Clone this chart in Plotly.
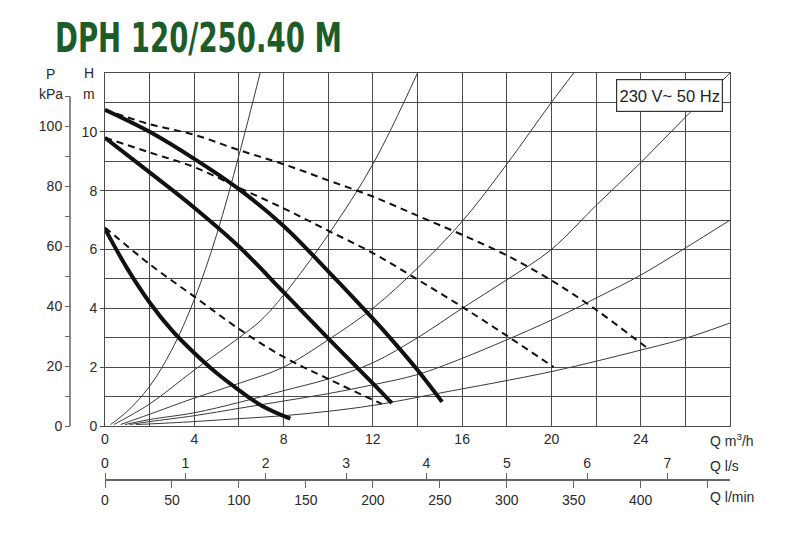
import plotly.graph_objects as go

# pump curves, Q in m3/h, H in m
q_hi = [0, 2, 4, 6, 8, 10, 12, 13, 14, 15.1]
h_hi = [10.75, 10.0, 9.08, 8.05, 6.8, 5.26, 3.65, 2.8, 1.9, 0.82]
q_mid = [0, 2, 4, 6, 8, 10, 12, 12.85]
h_mid = [9.8, 8.62, 7.42, 6.1, 4.55, 2.98, 1.45, 0.78]
q_lo = [0, 1, 2, 3, 4, 5, 6, 7, 8.3]
h_lo = [6.7, 5.35, 4.2, 3.25, 2.48, 1.8, 1.22, 0.7, 0.25]

# dashed curves
qd_hi = [0, 2, 4, 6, 8, 10, 12, 14, 16, 18, 20, 22, 24, 24.3]
hd_hi = [10.75, 10.26, 9.9, 9.38, 8.9, 8.35, 7.8, 7.15, 6.5, 5.8, 4.95, 3.95, 2.82, 2.65]
qd_mid = [0, 2, 4, 6, 8, 10, 12, 14, 16, 18, 20.1]
hd_mid = [9.8, 9.3, 8.8, 8.1, 7.4, 6.64, 5.88, 4.98, 4.05, 3.07, 2.0]
qd_lo = [0, 2, 4, 6, 8, 10, 12.4]
hd_lo = [6.75, 5.5, 4.4, 3.3, 2.35, 1.6, 0.75]

# system curves
sys_q = [
    [0.25, 1, 2, 3, 4, 5, 6, 6.95],
    [0.4, 2, 4, 6, 7, 8, 10, 12, 14],
    [0.7, 2, 4, 6, 8, 10, 12, 14, 16, 18, 20, 21],
    [0.9, 2, 4, 6, 8, 10, 12, 14, 16, 18, 20, 22, 24, 26, 28],
    [1.1, 2, 4, 6, 8, 10, 12, 14, 16, 20, 22, 24, 26, 28],
    [1.4, 2, 4, 6, 8, 10, 12, 15, 20, 24, 26, 28],
]
sys_h = [
    [0.05, 0.5, 1.35, 2.6, 4.3, 6.5, 9.2, 12],
    [0.05, 0.75, 1.9, 3.0, 3.6, 4.45, 6.5, 8.9, 12],
    [0.05, 0.4, 0.95, 1.45, 2.0, 2.93, 4.0, 5.37, 6.95, 8.9, 11, 12],
    [0.05, 0.22, 0.45, 0.8, 1.2, 1.6, 2.15, 3.0, 4.0, 4.97, 6.0, 7.5, 8.95, 10.5, 12],
    [0.05, 0.15, 0.35, 0.6, 0.85, 1.1, 1.4, 1.75, 2.3, 3.6, 4.35, 5.13, 6.05, 7.0],
    [0.05, 0.07, 0.15, 0.25, 0.35, 0.5, 0.7, 1.12, 1.85, 2.58, 2.98, 3.5],
]

q_ticks = [0, 4, 8, 12, 16, 20, 24]
h_ticks = [0, 2, 4, 6, 8, 10]
p_ticks = [0, 20, 40, 60, 80, 100]
p_minor = [10, 30, 50, 70, 90, 110]
ls_ticks = [0, 1, 2, 3, 4, 5, 6, 7]
lmin_ticks = [0, 50, 100, 150, 200, 250, 300, 350, 400]
lmin_minor = [450]

# page has an 8px body margin, so the figure is sized to fit the window
OFF = 8
W, H = 800 - OFF, 533 - OFF
ML, MR, MT, MB = 52, 62, 65, 32


def px(x):
    # page pixel -> paper fraction
    return (x - OFF - ML) / (W - ML - MR)


def py(y):
    return (H - MB - (y - OFF)) / (H - MT - MB)


GRID = "#4a4a4a"
TXT = "#2a2a2a"
tick_font = dict(family="Liberation Sans, Arial, sans-serif", size=14, color=TXT)

fig = go.Figure()

for qs, hs in zip(sys_q, sys_h):
    fig.add_trace(go.Scatter(x=qs, y=hs, mode="lines", line=dict(color="#3a3a3a", width=1, shape="spline"),
                             showlegend=False, hoverinfo="skip"))

for qs, hs in [(qd_hi, hd_hi), (qd_mid, hd_mid), (qd_lo, hd_lo)]:
    fig.add_trace(go.Scatter(x=qs, y=hs, mode="lines",
                             line=dict(color="#111", width=2, dash="7px,5px", shape="spline"),
                             showlegend=False, hoverinfo="skip"))

for qs, hs in [(q_hi, h_hi), (q_mid, h_mid), (q_lo, h_lo)]:
    fig.add_trace(go.Scatter(x=qs, y=hs, mode="lines", line=dict(color="#111", width=4, shape="spline"),
                             showlegend=False, hoverinfo="skip"))

# empty traces so the extra scales get drawn
fig.add_trace(go.Scatter(x=[None], y=[None], xaxis="x2", yaxis="y", showlegend=False))
fig.add_trace(go.Scatter(x=[None], y=[None], xaxis="x3", yaxis="y", showlegend=False))
fig.add_trace(go.Scatter(x=[None], y=[None], xaxis="x", yaxis="y2", showlegend=False))

kpa_top = 110
kpa_full = 12 * 9.81
xdom = [px(105), px(730)]
ydom = [py(426), py(73)]

fig.update_layout(
    width=W, height=H,
    margin=dict(l=ML, r=MR, t=MT, b=MB),
    plot_bgcolor="white", paper_bgcolor="white",
    title=dict(text="DPH 120/250.40 M", x=(55 - OFF) / W, xanchor="left", y=1 - (38 - OFF) / H,
               yanchor="middle",
               font=dict(family="DejaVu Sans Condensed, Liberation Sans Narrow, sans-serif",
                         size=41, color="#1c5c2a", weight="bold")),
    xaxis=dict(range=[0, 28], domain=xdom, tickvals=q_ticks, showgrid=True, gridcolor=GRID, gridwidth=1,
               minor=dict(dtick=2, showgrid=True, gridcolor=GRID, gridwidth=1),
               showline=True, mirror=True, linecolor=GRID, linewidth=1, zeroline=False,
               ticks="", tickfont=tick_font, automargin=False),
    yaxis=dict(range=[0, 12], domain=ydom, tickvals=h_ticks, showgrid=True, gridcolor=GRID, gridwidth=1,
               minor=dict(dtick=1, showgrid=True, gridcolor=GRID, gridwidth=1),
               showline=True, mirror=True, linecolor=GRID, linewidth=1, zeroline=False,
               ticks="outside", ticklen=4, tickcolor=GRID, tickfont=tick_font, automargin=False),
    yaxis2=dict(range=[0, kpa_full], overlaying="y", anchor="free", position=px(70), side="left",
                tickvals=p_ticks, showgrid=False, zeroline=False, showline=False,
                ticks="outside", ticklen=5, tickcolor="#666", tickfont=tick_font,
                minor=dict(tickvals=p_minor, ticks="outside", ticklen=5, tickcolor="#666"),
                automargin=False),
    xaxis2=dict(range=[0, 28 / 3.6], domain=xdom, overlaying="x", anchor="free", position=py(480),
                side="top", tickvals=ls_ticks, showgrid=False, zeroline=False,
                showline=True, linecolor="#666", linewidth=1.5,
                ticks="outside", ticklen=6, tickcolor="#666", tickfont=tick_font, automargin=False),
    xaxis3=dict(range=[0, 28 * 1000 / 60], domain=xdom, overlaying="x", anchor="free", position=py(480),
                side="bottom", tickvals=lmin_ticks, showgrid=False, zeroline=False,
                showline=True, linecolor="#666", linewidth=1.5,
                ticks="outside", ticklen=7, tickcolor="#666", tickfont=tick_font,
                minor=dict(tickvals=lmin_minor, ticks="outside", ticklen=7, tickcolor="#666"),
                automargin=False),
)

# P axis line stops at 110 kPa
fig.add_shape(type="line", xref="paper", yref="y2", x0=px(70), x1=px(70), y0=0, y1=kpa_top,
              line=dict(color="#666", width=1.5))

label_font = dict(family="Liberation Sans, Arial, sans-serif", size=14, color=TXT)
labels = [
    ("P", 50, 74), ("kPa", 51, 94), ("H", 89, 73), ("m", 89, 94),
]
for txt, x, y in labels:
    fig.add_annotation(text=txt, x=px(x), y=py(y), xref="paper", yref="paper", showarrow=False,
                       xanchor="center", yanchor="middle", font=label_font)
for txt, y in [("Q m<sup>3</sup>/h", 440), ("Q l/s", 466), ("Q l/min", 497)]:
    fig.add_annotation(text=txt, x=px(708), y=py(y), xref="paper", yref="paper", showarrow=False,
                       xanchor="left", yanchor="middle", font=label_font)

fig.add_annotation(text="230 V~ 50 Hz", x=px(669.5), y=py(95.5), xref="paper", yref="paper", showarrow=False,
                   xanchor="center", yanchor="middle", bgcolor="white", bordercolor="#333", borderwidth=1.2,
                   borderpad=2, width=101, height=27,
                   font=dict(family="Liberation Sans, Arial, sans-serif", size=16.5, color="#222"))

# squeeze the title horizontally like the condensed original lettering
squeeze = """
var t = document.querySelector('.gtitle');
if (t) {
  var b = t.getBBox();
  var s = 287 / b.width;
  t.setAttribute('transform', 'translate(' + (b.x * (1 - s)) + ',0) scale(' + s + ',1)');
}
"""

fig.write_html("out.html", post_script=squeeze)
